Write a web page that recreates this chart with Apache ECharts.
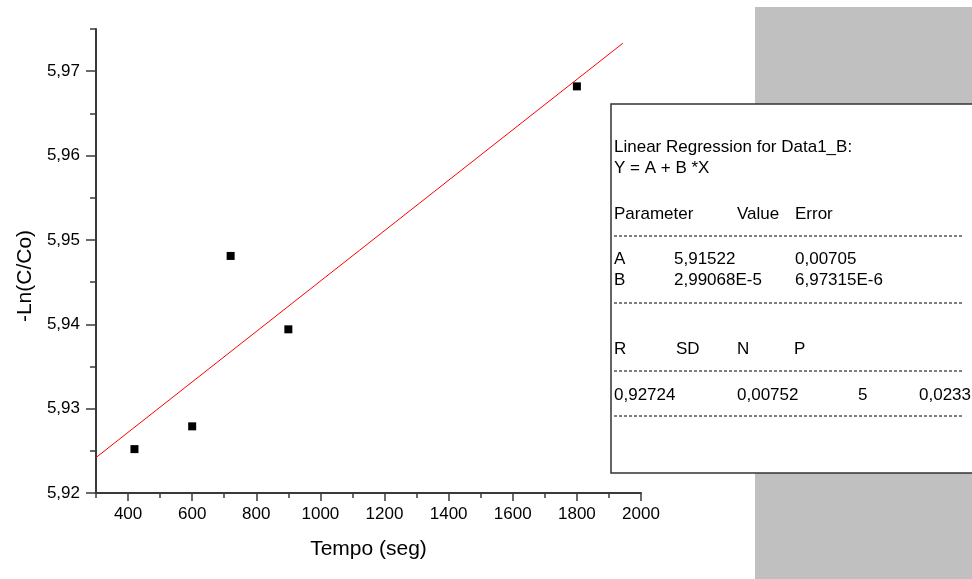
<!DOCTYPE html>
<html lang="pt">

<head>
  <meta charset="UTF-8">
  <title>Regressão linear - Tempo x -Ln(C/Co)</title>
  <script src="https://cdn.jsdelivr.net/npm/echarts@6/dist/echarts.min.js"></script>
  <style>
    body { margin: 0; background: #fff; }
  </style>
</head>

<body>
  <div id="main" style="width: 972px;height:579px;"></div>
  <script>
    var myChart = echarts.init(document.getElementById('main'));

    // dados medidos
    var tempo = [420, 600, 720, 900, 1800];
    var lnCCo = [5.9252, 5.9279, 5.9481, 5.9394, 5.9682];

    var fitTempo = [300, 1943];
    var fitLn = [5.9242, 5.9733];

    // marcas principais dos eixos
    var xMajorTicks = [400, 600, 800, 1000, 1200, 1400, 1600, 1800, 2000];
    var yMajorTicks = [5.92, 5.93, 5.94, 5.95, 5.96, 5.97];

    // caixa de resultados da regressão
    var boxHeader = ['Linear Regression for Data1_B:', 'Y = A + B *X'];
    var paramHead = ['Parameter', 'Value', 'Error'];
    var paramRows = [
      ['A', '5,91522', '0,00705'],
      ['B', '2,99068E-5', '6,97315E-6']
    ];
    var statHead = ['R', 'SD', 'N', 'P'];
    var statRow = ['0,92724', '0,00752', '5', '0,0233'];

    var FONT = '"Liberation Sans", Arial, sans-serif';
    var AXIS_COLOR = '#3a3a3a';

    var scatterData = tempo.map(function (t, i) { return [t, lnCCo[i]]; });
    var fitData = fitTempo.map(function (t, i) { return [t, fitLn[i]]; });

    //#region graphic da caixa
    function txt(s, x, y) {
      return {
        type: 'text', x: x, y: y, z: 20,
        style: { text: s, fill: '#000', fontSize: 17, fontFamily: FONT, verticalAlign: 'middle' }
      };
    }
    function dash(y) {
      return {
        type: 'line', z: 20,
        shape: { x1: 614, y1: y, x2: 964, y2: y },
        style: { stroke: '#000', lineWidth: 1, lineDash: [3, 2] }
      };
    }

    var graphics = [
      // fundo cinza à direita
      { type: 'rect', z: 5, shape: { x: 755, y: 7, width: 217, height: 572 }, style: { fill: '#c0c0c0' } },
      // caixa branca
      { type: 'rect', z: 10, shape: { x: 611, y: 104, width: 380, height: 369 },
        style: { fill: '#fff', stroke: '#333', lineWidth: 1.5 } }
    ];
    graphics.push(txt(boxHeader[0], 614, 147));
    graphics.push(txt(boxHeader[1], 614, 168));
    graphics.push(txt(paramHead[0], 614, 214));
    graphics.push(txt(paramHead[1], 737, 214));
    graphics.push(txt(paramHead[2], 795, 214));
    graphics.push(dash(236));
    var rowY = [259, 280];
    paramRows.forEach(function (r, i) {
      graphics.push(txt(r[0], 614, rowY[i]));
      graphics.push(txt(r[1], 674, rowY[i]));
      graphics.push(txt(r[2], 795, rowY[i]));
    });
    graphics.push(dash(303));
    var statX = [614, 676, 737, 794];
    statHead.forEach(function (s, i) { graphics.push(txt(s, statX[i], 349)); });
    graphics.push(dash(371));
    var valX = [614, 737, 858, 919];
    statRow.forEach(function (s, i) { graphics.push(txt(s, valX[i], 395)); });
    graphics.push(dash(416));
    //#endregion

    var labelStyle = { color: '#000', fontSize: 17, fontFamily: FONT };

    option = {
      backgroundColor: '#fff',
      animation: false,
      grid: { left: 96, right: 331, top: 29, bottom: 86 },
      xAxis: [
        {
          type: 'value', position: 'bottom', min: 300, max: 2000, interval: 100,
          axisLine: { lineStyle: { color: AXIS_COLOR, width: 2 } },
          axisTick: { length: 5, lineStyle: { color: AXIS_COLOR, width: 1.5 } },
          axisLabel: { show: false },
          splitLine: { show: false }
        },
        {
          type: 'value', position: 'bottom', min: 300, max: 2000,
          axisLine: { show: false },
          axisTick: { customValues: xMajorTicks, length: 8, lineStyle: { color: AXIS_COLOR, width: 1.5 } },
          axisLabel: Object.assign({
            customValues: xMajorTicks, margin: 13,
            formatter: function (v) { return String(v); }
          }, labelStyle),
          splitLine: { show: false },
          name: 'Tempo (seg)',
          nameLocation: 'middle',
          nameGap: 46,
          nameTextStyle: { color: '#000', fontSize: 21, fontFamily: FONT }
        }
      ],
      yAxis: [
        {
          type: 'value', position: 'left', min: 5.92, max: 5.975, interval: 0.005,
          axisLine: { lineStyle: { color: AXIS_COLOR, width: 2 } },
          axisTick: { length: 6, lineStyle: { color: AXIS_COLOR, width: 1.5 } },
          axisLabel: { show: false },
          splitLine: { show: false }
        },
        {
          type: 'value', position: 'left', min: 5.92, max: 5.975,
          axisLine: { show: false },
          axisTick: { customValues: yMajorTicks, length: 10, lineStyle: { color: AXIS_COLOR, width: 1.5 } },
          axisLabel: Object.assign({
            customValues: yMajorTicks, margin: 16,
            formatter: function (v) { return v.toFixed(2).replace('.', ','); }
          }, labelStyle),
          splitLine: { show: false },
          name: '-Ln(C/Co)',
          nameLocation: 'middle',
          nameGap: 60,
          nameTextStyle: { color: '#000', fontSize: 21, fontFamily: FONT, padding: [0, 30, 0, 0] }
        }
      ],
      series: [
        {
          name: 'ajuste',
          type: 'line',
          xAxisIndex: 0, yAxisIndex: 0,
          data: fitData,
          showSymbol: false,
          lineStyle: { color: '#ff0000', width: 1 },
          z: 2
        },
        {
          name: 'Data1_B',
          type: 'scatter',
          xAxisIndex: 0, yAxisIndex: 0,
          data: scatterData,
          symbol: 'rect',
          symbolSize: 8,
          itemStyle: { color: '#000', opacity: 1 },
          z: 3
        }
      ],
      graphic: graphics
    };

    myChart.setOption(option);
  </script>
</body>

</html>
